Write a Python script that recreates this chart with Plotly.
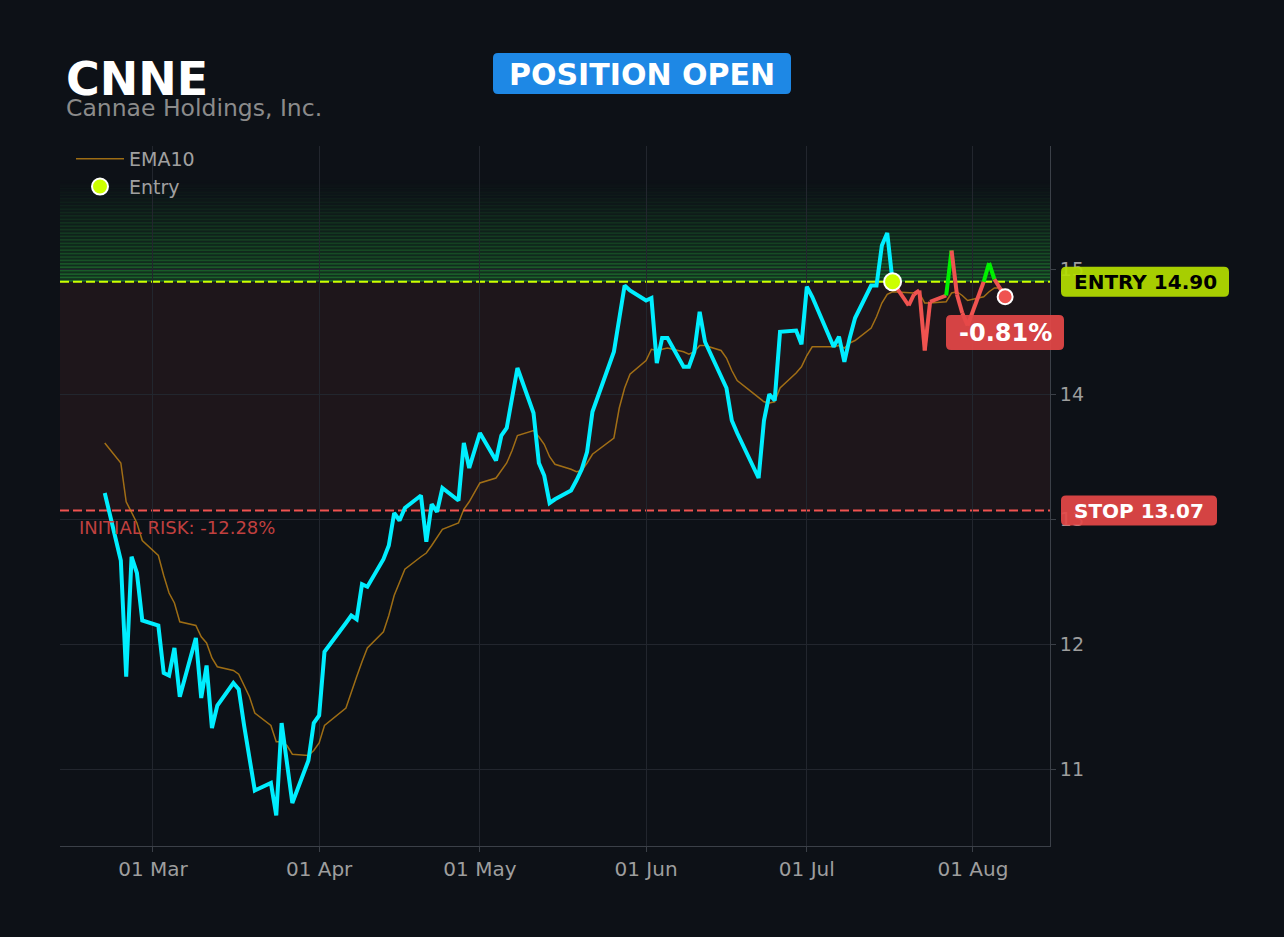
import plotly.graph_objects as go

# page geometry (pixels)
W, H = 1284, 937
L, R, T, B = 60, 234, 146, 91
PLOT_W, PLOT_H = W - L - R, H - T - B

ticker = "CNNE"
company = "Cannae Holdings, Inc."
status = "POSITION OPEN"
entry_date = "2026-07-17"
entry_price = 14.90
stop_price = 13.07
initial_risk = -12.28
y_range = [10.386, 15.986]
x_range = ["2026-02-11 15:36", "2026-08-15 08:53"]

dates = [
    "2026-02-20", "2026-02-23", "2026-02-24", "2026-02-25", "2026-02-26", "2026-02-27",
    "2026-03-02", "2026-03-03", "2026-03-04", "2026-03-05", "2026-03-06",
    "2026-03-09", "2026-03-10", "2026-03-11", "2026-03-12", "2026-03-13",
    "2026-03-16", "2026-03-17", "2026-03-18", "2026-03-19", "2026-03-20",
    "2026-03-23", "2026-03-24", "2026-03-25", "2026-03-26", "2026-03-27",
    "2026-03-30", "2026-03-31", "2026-04-01", "2026-04-02",
    "2026-04-06", "2026-04-07", "2026-04-08", "2026-04-09", "2026-04-10",
    "2026-04-13", "2026-04-14", "2026-04-15", "2026-04-16", "2026-04-17",
    "2026-04-20", "2026-04-21", "2026-04-22", "2026-04-23", "2026-04-24",
    "2026-04-27", "2026-04-28", "2026-04-29", "2026-04-30", "2026-05-01",
    "2026-05-04", "2026-05-05", "2026-05-06", "2026-05-07", "2026-05-08",
    "2026-05-11", "2026-05-12", "2026-05-13", "2026-05-14", "2026-05-15",
    "2026-05-18", "2026-05-19", "2026-05-20", "2026-05-21", "2026-05-22",
    "2026-05-26", "2026-05-27", "2026-05-28", "2026-05-29",
    "2026-06-01", "2026-06-02", "2026-06-03", "2026-06-04", "2026-06-05",
    "2026-06-08", "2026-06-09", "2026-06-10", "2026-06-11", "2026-06-12",
    "2026-06-15", "2026-06-16", "2026-06-17", "2026-06-18",
    "2026-06-22", "2026-06-23", "2026-06-24", "2026-06-25", "2026-06-26",
    "2026-06-29", "2026-06-30", "2026-07-01", "2026-07-02",
    "2026-07-06", "2026-07-07", "2026-07-08", "2026-07-09", "2026-07-10",
    "2026-07-13", "2026-07-14", "2026-07-15", "2026-07-16", "2026-07-17",
    "2026-07-20", "2026-07-21", "2026-07-22", "2026-07-23", "2026-07-24",
    "2026-07-27", "2026-07-28", "2026-07-29", "2026-07-30", "2026-07-31",
    "2026-08-03", "2026-08-04", "2026-08-05", "2026-08-06", "2026-08-07",
]

close = [
    13.21, 12.67, 11.74, 12.70, 12.57, 12.19,
    12.15, 11.77, 11.75, 11.97, 11.58,
    12.05, 11.57, 11.83, 11.33, 11.51,
    11.69, 11.64, 11.35, 11.08, 10.83,
    10.89, 10.63, 11.37, 11.05, 10.73,
    11.07, 11.37, 11.43, 11.94,
    12.17, 12.23, 12.20, 12.48, 12.46,
    12.68, 12.79, 13.05, 12.99, 13.09,
    13.19, 12.82, 13.12, 13.06, 13.25,
    13.15, 13.61, 13.41, 13.55, 13.69,
    13.47, 13.67, 13.73, 13.97, 14.21,
    13.85, 13.45, 13.35, 13.13, 13.16,
    13.23, 13.31, 13.40, 13.54, 13.86,
    14.34, 14.60, 14.87, 14.83,
    14.75, 14.77, 14.25, 14.45, 14.45,
    14.22, 14.22, 14.34, 14.66, 14.42,
    14.13, 14.05, 13.79, 13.69,
    13.33, 13.79, 14.00, 13.95, 14.50,
    14.51, 14.40, 14.86, 14.78,
    14.38, 14.46, 14.26, 14.45, 14.61,
    14.87, 14.87, 15.19, 15.29, 14.90,
    14.71, 14.80, 14.83, 14.35, 14.74,
    14.79, 15.15, 14.80, 14.65, 14.55,
    14.90, 15.05, 14.92, 14.85, 14.78,
]

ema10 = [
    13.61, 13.45, 13.14, 13.05, 12.97, 12.83,
    12.71, 12.55, 12.41, 12.33, 12.18,
    12.15, 12.06, 12.01, 11.89, 11.82,
    11.79, 11.76, 11.67, 11.58, 11.45,
    11.35, 11.22, 11.22, 11.19, 11.12,
    11.11, 11.15, 11.21, 11.35,
    11.49, 11.62, 11.74, 11.86, 11.97,
    12.10, 12.23, 12.39, 12.49, 12.60,
    12.70, 12.73, 12.79, 12.86, 12.92,
    12.97, 13.08, 13.14, 13.21, 13.29,
    13.33, 13.39, 13.45, 13.55, 13.67,
    13.71, 13.66, 13.60, 13.50, 13.44,
    13.40, 13.38, 13.39, 13.45, 13.52,
    13.65, 13.89, 14.05, 14.16,
    14.27, 14.36, 14.35, 14.36, 14.37,
    14.34, 14.32, 14.34, 14.39, 14.39,
    14.35, 14.29, 14.19, 14.11,
    13.97, 13.94, 13.93, 13.94, 14.05,
    14.17, 14.22, 14.31, 14.38,
    14.38, 14.39, 14.37, 14.41, 14.43,
    14.53, 14.62, 14.73, 14.80, 14.82,
    14.81, 14.81, 14.81, 14.73, 14.73,
    14.74, 14.81, 14.82, 14.79, 14.75,
    14.78, 14.82, 14.85, 14.85, 14.83,
]

BG = "#0d1117"
CYAN = "#00eeff"
RED = "#ef5350"
GREEN = "#00f000"
LIME = "#ccff00"
FONT = "DejaVu Sans"


def px(x):
    return (x - L) / PLOT_W


def py(y):
    return (H - B - y) / PLOT_H


def ypix(val):
    return T + (y_range[1] - val) / (y_range[1] - y_range[0]) * PLOT_H


def rounded_box(x0, y0, x1, y1, color, r=5):
    """Rounded rectangle given in page pixels, drawn in paper coords."""
    p = lambda x, y: f"{px(x):.5f},{py(y):.5f}"
    path = (
        f"M {p(x0 + r, y0)} L {p(x1 - r, y0)} Q {p(x1, y0)} {p(x1, y0 + r)} "
        f"L {p(x1, y1 - r)} Q {p(x1, y1)} {p(x1 - r, y1)} "
        f"L {p(x0 + r, y1)} Q {p(x0, y1)} {p(x0, y1 - r)} "
        f"L {p(x0, y0 + r)} Q {p(x0, y0)} {p(x0 + r, y0)} Z"
    )
    return dict(type="path", path=path, xref="paper", yref="paper",
                fillcolor=color, line=dict(width=0), layer="above")


entry_idx = dates.index(entry_date)
pnl = (close[-1] / entry_price - 1) * 100

fig = go.Figure()

fig.add_trace(go.Scatter(
    x=dates, y=ema10, mode="lines", name="EMA10",
    line=dict(color="rgba(205,140,20,0.75)", width=1.5),
))

# price before entry
fig.add_trace(go.Scatter(
    x=dates[:entry_idx + 1], y=close[:entry_idx + 1], mode="lines",
    line=dict(color=CYAN, width=4), showlegend=False,
))

# price after entry, coloured per segment
for i in range(entry_idx, len(dates) - 1):
    color = GREEN if close[i + 1] > entry_price else RED
    fig.add_trace(go.Scatter(
        x=dates[i:i + 2], y=close[i:i + 2], mode="lines",
        line=dict(color=color, width=4), showlegend=False,
    ))

fig.add_trace(go.Scatter(
    x=[entry_date], y=[entry_price], mode="markers", name="Entry",
    marker=dict(color=LIME, size=17, line=dict(color="white", width=2)),
))

fig.add_trace(go.Scatter(
    x=[dates[-1]], y=[close[-1]], mode="markers", showlegend=False,
    marker=dict(color=RED, size=15, line=dict(color="white", width=2)),
))

shapes = []
# risk zone
shapes.append(dict(type="rect", xref="paper", yref="y", x0=0, x1=1,
                   y0=stop_price, y1=entry_price, fillcolor="rgba(239,83,80,0.08)",
                   line=dict(width=0), layer="below"))
# profit zone: striped green fading upward
n_stripes = 30
top = 15.72
step = (top - entry_price) / n_stripes
for k in range(n_stripes):
    a = 0.55 * (1 - k / n_stripes) ** 1.2
    y0 = entry_price + k * step
    shapes.append(dict(type="rect", xref="paper", yref="y", x0=0, x1=1,
                       y0=y0, y1=y0 + step * 0.5,
                       fillcolor=f"rgba(40,170,60,{a:.3f})",
                       line=dict(width=0), layer="below"))
    shapes.append(dict(type="rect", xref="paper", yref="y", x0=0, x1=1,
                       y0=y0 + step * 0.5, y1=y0 + step,
                       fillcolor=f"rgba(40,170,60,{a * 0.4:.3f})",
                       line=dict(width=0), layer="below"))
# entry / stop lines
shapes.append(dict(type="line", xref="paper", yref="y", x0=0, x1=1,
                   y0=entry_price, y1=entry_price,
                   line=dict(color=LIME, width=2, dash="9px,4px"), layer="between"))
shapes.append(dict(type="line", xref="paper", yref="y", x0=0, x1=1,
                   y0=stop_price, y1=stop_price,
                   line=dict(color=RED, width=2, dash="9px,4px"), layer="between"))

# badges
ey, sy = ypix(entry_price), ypix(stop_price)
shapes.append(rounded_box(493, 53, 791, 94, "#1e88e5"))
shapes.append(rounded_box(1061, ey - 15, 1229, ey + 15, "rgba(180,222,0,0.92)"))
shapes.append(rounded_box(1061, sy - 15, 1217, sy + 15, "rgba(229,72,72,0.92)"))
shapes.append(rounded_box(946, 315, 1064, 350, "rgba(229,72,72,0.92)"))

annotations = [
    dict(text=f"<b>{ticker}</b>", x=px(64), y=py(79), xanchor="left", yanchor="middle",
         font=dict(size=46, color="white", family=FONT)),
    dict(text=company, x=px(64), y=py(108), xanchor="left", yanchor="middle",
         font=dict(size=23.5, color="#8b8b8b", family=FONT)),
    dict(text=f"<b>{status}</b>", x=px(642), y=py(74), xanchor="center", yanchor="middle",
         font=dict(size=30, color="white", family=FONT)),
    dict(text=f"<b>ENTRY {entry_price:.2f}</b>", x=px(1145), y=py(ey), xanchor="center",
         yanchor="middle", font=dict(size=20, color="black", family=FONT)),
    dict(text=f"<b>STOP {stop_price:.2f}</b>", x=px(1139), y=py(sy), xanchor="center",
         yanchor="middle", font=dict(size=20, color="white", family=FONT)),
    dict(text=f"<b>{pnl:.2f}%</b>", x=px(1005), y=py(333), xanchor="center",
         yanchor="middle", font=dict(size=24, color="white", family=FONT)),
    dict(text=f"INITIAL RISK: {initial_risk:.2f}%", x=px(77), y=py(527), xanchor="left",
         yanchor="middle", font=dict(size=18, color="#c0403f", family=FONT)),
]
for a in annotations:
    a.update(xref="paper", yref="paper", showarrow=False)

fig.update_layout(
    width=W, height=H,
    margin=dict(l=L, r=R, t=T, b=B),
    paper_bgcolor=BG, plot_bgcolor=BG,
    font=dict(family=FONT, color="#9e9e9e", size=18),
    shapes=shapes, annotations=annotations,
    showlegend=True,
    legend=dict(x=px(71), y=py(140), xanchor="left", yanchor="top",
                bgcolor="rgba(0,0,0,0)", font=dict(size=19, color="#a0a0a0"),
                itemwidth=48),
    hovermode=False,
)
fig.update_xaxes(
    range=x_range, type="date", dtick="M1", tick0="2026-01-01", tickformat="%d %b",
    showgrid=True, gridcolor="#22262e", gridwidth=1, zeroline=False,
    showline=True, linecolor="#3b4048", ticks="outside", ticklen=5, tickcolor="#3b4048",
    tickfont=dict(size=20, color="#9e9e9e"),
)
fig.update_yaxes(
    range=y_range, side="right", dtick=1, showgrid=True, gridcolor="#22262e",
    zeroline=False, showline=True, linecolor="#3b4048", ticks="outside", ticklen=5,
    tickcolor="#3b4048", tickfont=dict(size=19, color="#9e9e9e"),
)

# page fills the window edge to edge, like the reference
page_css = (
    "document.body.style.margin='0';"
    "document.body.style.background='#0d1117';"
)
fig.write_html("out.html", post_script=page_css, config={"displayModeBar": False})
